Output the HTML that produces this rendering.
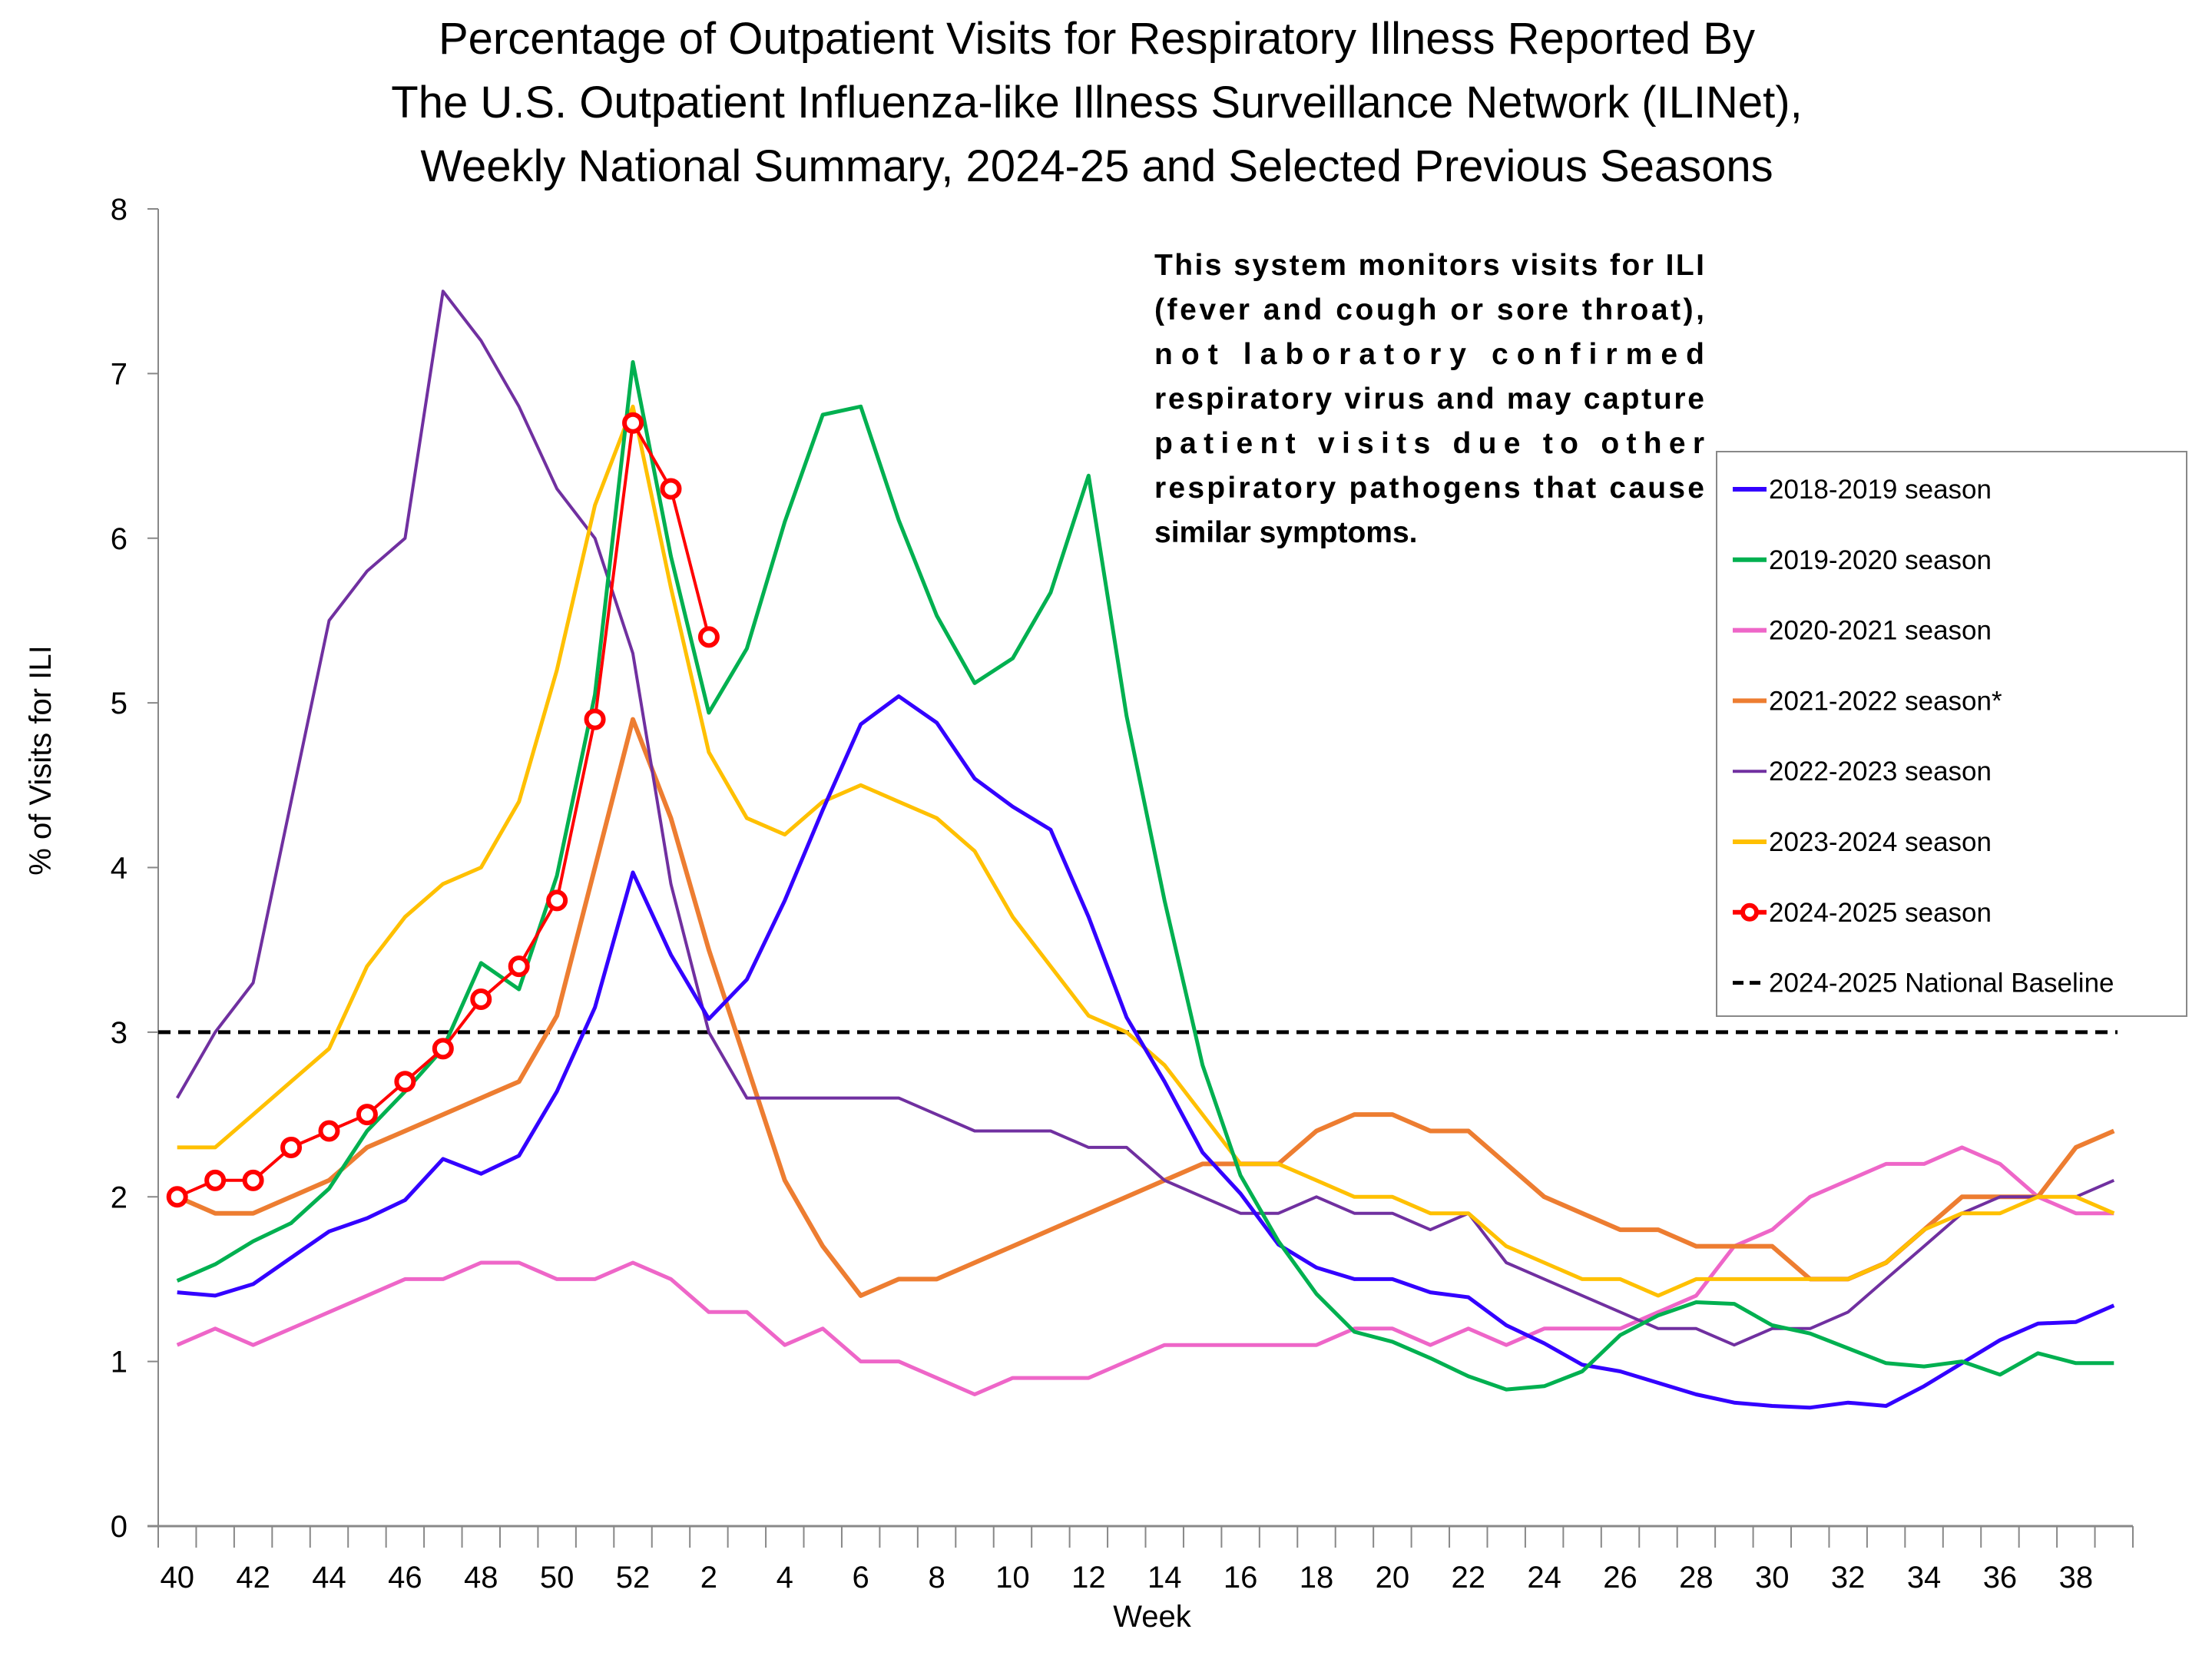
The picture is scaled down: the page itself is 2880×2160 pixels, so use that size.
<!DOCTYPE html>
<html><head><meta charset="utf-8"><style>
html,body{margin:0;padding:0;background:#fff;}
svg{display:block;font-family:"Liberation Sans",sans-serif;}
</style></head><body>
<svg id="chart" width="2880" height="2160" viewBox="0 0 2880 2160" xmlns="http://www.w3.org/2000/svg">
<rect x="0" y="0" width="2880" height="2160" fill="#fff"/>
<g font-size="58" text-anchor="middle" fill="#000">
<text x="1428" y="70">Percentage of Outpatient Visits for Respiratory Illness Reported By</text>
<text x="1428" y="153">The U.S. Outpatient Influenza-like Illness Surveillance Network (ILINet),</text>
<text x="1428" y="236">Weekly National Summary, 2024-25 and Selected Previous Seasons</text>
</g>
<g font-size="39" font-weight="bold" fill="#000">
<text x="1503" y="358" textLength="716" lengthAdjust="spacing">This system monitors visits for ILI</text>
<text x="1503" y="416" textLength="716" lengthAdjust="spacing">(fever and cough or sore throat),</text>
<text x="1503" y="474" textLength="716" lengthAdjust="spacing">not  laboratory  confirmed</text>
<text x="1503" y="532" textLength="716" lengthAdjust="spacing">respiratory virus and may capture</text>
<text x="1503" y="590" textLength="716" lengthAdjust="spacing">patient visits due to other</text>
<text x="1503" y="648" textLength="716" lengthAdjust="spacing">respiratory pathogens that cause</text>
<text x="1503" y="706">similar symptoms.</text>
</g>
<g id="axes"></g>
<g id="series"></g>
<g>
<rect x="2235" y="588" width="612" height="735" fill="#fff" stroke="#888" stroke-width="2"/>
<g id="legend-items" font-size="35" fill="#000"></g>
</g>
<text x="0" y="0" font-size="40" text-anchor="middle" transform="translate(66,990) rotate(-90)">% of Visits for ILI</text>
<text x="1500" y="2118" font-size="40" text-anchor="middle">Week</text>
</svg>
<script>
const weekLabels = [40,41,42,43,44,45,46,47,48,49,50,51,52,1,2,3,4,5,6,7,8,9,10,11,12,13,14,15,16,17,18,19,20,21,22,23,24,25,26,27,28,29,30,31,32,33,34,35,36,37,38,39];
const yTicks = [0,1,2,3,4,5,6,7,8];
const s1819 = [1.42,1.40,1.47,1.63,1.79,1.87,1.98,2.23,2.14,2.25,2.64,3.15,3.97,3.47,3.08,3.32,3.80,4.35,4.87,5.04,4.88,4.54,4.37,4.23,3.70,3.09,2.70,2.27,2.02,1.71,1.57,1.50,1.50,1.42,1.39,1.22,1.11,0.98,0.94,0.87,0.80,0.75,0.73,0.72,0.75,0.73,0.85,0.99,1.13,1.23,1.24,1.34];
const s1920 = [1.49,1.59,1.73,1.84,2.05,2.40,2.64,2.90,3.42,3.26,3.95,5.05,7.07,5.89,4.94,5.33,6.10,6.75,6.80,6.11,5.53,5.12,5.27,5.67,6.38,4.92,3.80,2.80,2.13,1.73,1.41,1.18,1.12,1.02,0.91,0.83,0.85,0.94,1.16,1.28,1.36,1.35,1.22,1.17,1.08,0.99,0.97,1.00,0.92,1.05,0.99,0.99];
const s2021 = [1.1,1.2,1.1,1.2,1.3,1.4,1.5,1.5,1.6,1.6,1.5,1.5,1.6,1.5,1.3,1.3,1.1,1.2,1.0,1.0,0.9,0.8,0.9,0.9,0.9,1.0,1.1,1.1,1.1,1.1,1.1,1.2,1.2,1.1,1.2,1.1,1.2,1.2,1.2,1.3,1.4,1.7,1.8,2.0,2.1,2.2,2.2,2.3,2.2,2.0,1.9,1.9];
const s2122 = [2.0,1.9,1.9,2.0,2.1,2.3,2.4,2.5,2.6,2.7,3.1,4.0,4.9,4.3,3.5,2.8,2.1,1.7,1.4,1.5,1.5,1.6,1.7,1.8,1.9,2.0,2.1,2.2,2.2,2.2,2.4,2.5,2.5,2.4,2.4,2.2,2.0,1.9,1.8,1.8,1.7,1.7,1.7,1.5,1.5,1.6,1.8,2.0,2.0,2.0,2.3,2.4];
const s2223 = [2.6,3.0,3.3,4.4,5.5,5.8,6.0,7.5,7.2,6.8,6.3,6.0,5.3,3.9,3.0,2.6,2.6,2.6,2.6,2.6,2.5,2.4,2.4,2.4,2.3,2.3,2.1,2.0,1.9,1.9,2.0,1.9,1.9,1.8,1.9,1.6,1.5,1.4,1.3,1.2,1.2,1.1,1.2,1.2,1.3,1.5,1.7,1.9,2.0,2.0,2.0,2.1];
const s2324 = [2.3,2.3,2.5,2.7,2.9,3.4,3.7,3.9,4.0,4.4,5.2,6.2,6.8,5.7,4.7,4.3,4.2,4.4,4.5,4.4,4.3,4.1,3.7,3.4,3.1,3.0,2.8,2.5,2.2,2.2,2.1,2.0,2.0,1.9,1.9,1.7,1.6,1.5,1.5,1.4,1.5,1.5,1.5,1.5,1.5,1.6,1.8,1.9,1.9,2.0,2.0,1.9];
const s2425 = [2.0,2.1,2.1,2.3,2.4,2.5,2.7,2.9,3.2,3.4,3.8,4.9,6.7,6.3,5.4];
const baseline = 3.0;

const NS = "http://www.w3.org/2000/svg";
const X0 = 206, X1 = 2777, Y0 = 1987, YT = 272, YMAX = 8;
const bw = (X1 - X0) / weekLabels.length;
function xPos(i){ return X0 + bw * (i + 0.5); }
function yPos(v){ return Y0 - (v / YMAX) * (Y0 - YT); }
function mk(tag, attrs, parent){ const e = document.createElementNS(NS, tag); for (const k in attrs) e.setAttribute(k, attrs[k]); parent.appendChild(e); return e; }

const axes = document.getElementById('axes');
const yAxis = mk('line', {x1:X0, y1:YT, x2:X0, y2:Y0, stroke:'#888', 'stroke-width':2}, axes);


const xAxis = mk('line', {x1:X0-14, y1:Y0, x2:X1, y2:Y0, stroke:'#888', 'stroke-width':3}, axes);


yTicks.forEach(function(t){
  const y = yPos(t);
  mk('line', {x1:X0-14, y1:y, x2:X0, y2:y, stroke:'#888', 'stroke-width':2}, axes);
  const lab = mk('text', {x:X0-40, y:y+14, 'font-size':40, 'text-anchor':'end', fill:'#000'}, axes);
  lab.textContent = t;
  
  
});
for (let i = 0; i <= weekLabels.length; i++) {
  const x = X0 + bw * i;
  mk('line', {x1:x, y1:Y0, x2:x, y2:Y0+28, stroke:'#888', 'stroke-width':2}, axes);
}
weekLabels.forEach(function(w, i){
  if (i % 2 === 0) {
    const lab = mk('text', {x:xPos(i), y:Y0+80, 'font-size':40, 'text-anchor':'middle', fill:'#000'}, axes);
    lab.textContent = w;
    
    
  }
});

const series = document.getElementById('series');
const bl = mk('line', {x1:X0, y1:yPos(baseline), x2:X1-20, y2:yPos(baseline), stroke:'#000', 'stroke-width':5, 'stroke-dasharray':'16 10'}, series);



function drawLine(vals, color, w, name){
  const pts = vals.map(function(v, i){ return xPos(i).toFixed(1) + ',' + yPos(v).toFixed(1); }).join(' ');
  const pl = mk('polyline', {points:pts, fill:'none', stroke:color, 'stroke-width':w, 'stroke-linejoin':'round'}, series);
  
  
}
drawLine(s2021, '#EE66C8', 5, 'line-2020-2021');
drawLine(s2122, '#ED7D31', 6, 'line-2021-2022');
drawLine(s2223, '#7030A0', 4, 'line-2022-2023');
drawLine(s2324, '#FFC000', 5, 'line-2023-2024');
drawLine(s1819, '#3300FF', 5, 'line-2018-2019');
drawLine(s1920, '#00B050', 5, 'line-2019-2020');
drawLine(s2425, '#FF0000', 4, 'line-2024-2025');
s2425.forEach(function(v, i){
  const c = mk('circle', {cx:xPos(i), cy:yPos(v), r:11, fill:'#fff', stroke:'#FF0000', 'stroke-width':6}, series);
  
  
});

const legendNames = ['2018-2019 season','2019-2020 season','2020-2021 season','2021-2022 season*','2022-2023 season','2023-2024 season','2024-2025 season','2024-2025 National Baseline'];
const legendColors = ['#3300FF','#00B050','#EE66C8','#ED7D31','#7030A0','#FFC000','#FF0000','#000'];
const lg = document.getElementById('legend-items');
legendNames.forEach(function(n, i){
  const y = 637 + i * 91.8;
  if (i === 7) {
    mk('line', {x1:2256, y1:y, x2:2300, y2:y, stroke:'#000', 'stroke-width':5, 'stroke-dasharray':'14 8'}, lg);
  } else {
    mk('line', {x1:2256, y1:y, x2:2300, y2:y, stroke:legendColors[i], 'stroke-width':i===4?4:6}, lg);
  }
  if (i === 6) mk('circle', {cx:2278, cy:y, r:9, fill:'#fff', stroke:'#FF0000', 'stroke-width':6}, lg);
  const t = mk('text', {x:2303, y:y+12}, lg);
  t.textContent = n;
  
  
});
</script>
</body></html>
